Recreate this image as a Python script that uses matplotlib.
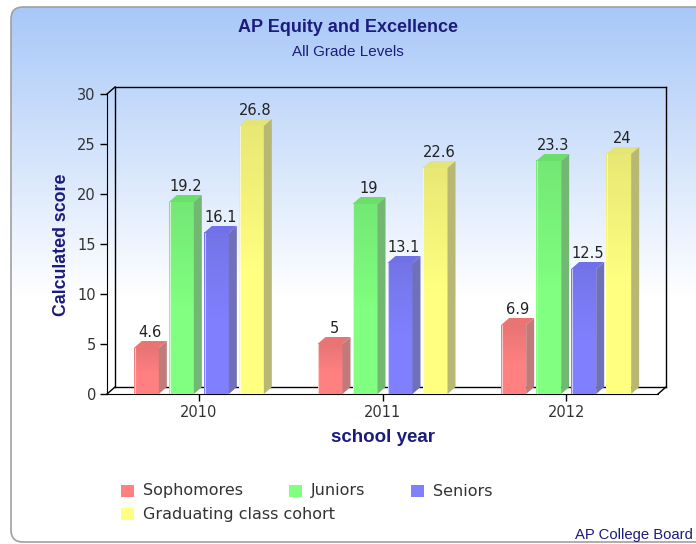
import numpy as np
import matplotlib.pyplot as plt
from matplotlib.patches import Polygon, FancyBboxPatch, Rectangle
from matplotlib.lines import Line2D
from matplotlib.colors import to_rgb

# ------------------ DATA ------------------
years = ['2010', '2011', '2012']
series = ['Sophomores', 'Juniors', 'Seniors', 'Graduating class cohort']
sophomores = [4.6, 5, 6.9]
juniors = [19.2, 19, 23.3]
seniors = [16.1, 13.1, 12.5]
graduating = [26.8, 22.6, 24]

front_cols = ['#ff8080', '#80ff80', '#8080ff', '#ffff80']
side_cols = ['#c07a7a', '#72b872', '#7070b8', '#b8b874']
top_cols = ['#e87474', '#6ae06a', '#7070e8', '#e4e478']

navy = '#1c1c7c'
W, H = 696, 544

fig = plt.figure(figsize=(W / 100, H / 100), dpi=100)
fig.patch.set_facecolor('white')

# ------------------ BACKGROUND (pixel coords) ------------------
bg = fig.add_axes([0, 0, 1, 1])
bg.set_xlim(0, W)
bg.set_ylim(H, 0)
bg.axis('off')

panel = FancyBboxPatch((11, 7), 720, 535, boxstyle='round,pad=0,rounding_size=12',
                       facecolor='none', edgecolor='#a0a0a0', lw=1.2, zorder=3)
bg.add_patch(panel)
grad = np.ones((H, 1, 3))
top_c = np.array([168, 200, 248]) / 255
for r in range(H):
    t = min(max((r - 7) / 290, 0), 1)
    grad[r, 0] = top_c * (1 - t) + np.ones(3) * t
im = bg.imshow(grad, extent=[0, W, H, 0], aspect='auto', zorder=1)
im.set_clip_path(panel)

bg.text(348, 27, 'AP Equity and Excellence', ha='center', va='center', fontsize=13,
        fontweight='bold', color=navy, family='Liberation Sans')
bg.text(348, 52, 'All Grade Levels', ha='center', va='center', fontsize=11,
        color=navy, family='Liberation Sans')
bg.text(62, 245, 'Calculated score', ha='center', va='center', rotation=90, fontsize=12.8,
        fontweight='bold', color=navy, family='Liberation Sans')
bg.text(383, 437, 'school year', ha='center', va='center', fontsize=13.5,
        fontweight='bold', color=navy, family='Liberation Sans')
bg.text(693, 535, 'AP College Board', ha='right', va='center', fontsize=10.7,
        color=navy, family='Liberation Sans')

# legend
leg_pos = [(121, 491), (289, 491), (411, 491), (121, 514)]
for name, col, (lx, ly) in zip(series, front_cols, leg_pos):
    bg.add_patch(Rectangle((lx, ly - 6), 13, 12, facecolor=col, edgecolor='none', zorder=4))
    bg.text(lx + 22, ly, name, ha='left', va='center', fontsize=11.5, color='#333333', zorder=4)

# ------------------ CHART ------------------
ax = fig.add_axes([107 / W, 1 - 394 / H, 551 / W, 300 / H])
ax.set_facecolor('none')
ax.set_xlim(-0.5, 2.5)
ax.set_ylim(0, 30)

px_x = 551 / 3.0
dx = 8 / px_x
dy = 0.7

# back wall and floor
wall = dict(color='black', lw=1, clip_on=False, zorder=2)
ax.add_line(Line2D([-0.5 + dx, 2.5 + dx], [30 + dy, 30 + dy], **wall))
ax.add_line(Line2D([2.5 + dx, 2.5 + dx], [dy, 30 + dy], **wall))
ax.add_line(Line2D([-0.5 + dx, -0.5 + dx], [dy, 30 + dy], **wall))
ax.add_line(Line2D([-0.5 + dx, 2.5 + dx], [dy, dy], **wall))
ax.add_line(Line2D([-0.5, -0.5 + dx], [30, 30 + dy], **wall))
ax.add_line(Line2D([-0.5, -0.5 + dx], [0, dy], **wall))
ax.add_line(Line2D([2.5, 2.5 + dx], [0, dy], **wall))

values = [sophomores, juniors, seniors, graduating]
bw = 25 / px_x
step = 35 / px_x
for i, vals in enumerate(values):
    fc = np.array(to_rgb(front_cols[i]))
    for j, v in enumerate(vals):
        x0 = j + (i - 1.5) * step - bw / 2
        # front face: a bit darker at the top, full colour lower down
        n = 50
        g = np.zeros((n, 1, 3))
        for k in range(n):
            t = (n - 1 - k) / (n - 1)  # 1 at top row, 0 at bottom row
            s = 1.0 - 0.09 * max((t - 0.45) / 0.55, 0)
            g[k, 0] = fc * s
        ax.imshow(g, extent=[x0, x0 + bw, 0, v], aspect='auto', origin='upper', zorder=3)
        ax.add_line(Line2D([x0 + 0.004, x0 + 0.004], [0, v], color='white', lw=0.8, alpha=0.6, zorder=4))
        ax.add_patch(Polygon([(x0, v), (x0 + bw, v), (x0 + bw + dx, v + dy), (x0 + dx, v + dy)],
                             closed=True, facecolor=top_cols[i], edgecolor='none', zorder=3))
        ax.add_patch(Polygon([(x0 + bw, 0), (x0 + bw + dx, dy), (x0 + bw + dx, v + dy), (x0 + bw, v)],
                             closed=True, facecolor=side_cols[i], edgecolor='none', zorder=3))
        ax.text(x0 + bw / 2 + dx / 2, v + dy + 0.1, f'{v:g}', ha='center', va='bottom',
                fontsize=10.5, color='#222222', zorder=5)

ax.set_xlim(-0.5, 2.5)
ax.set_ylim(0, 30)
ax.set_xticks(range(len(years)))
ax.set_xticklabels(years)
ax.set_yticks(range(0, 31, 5))
ax.spines['top'].set_visible(False)
ax.spines['right'].set_visible(False)
ax.tick_params(direction='out', length=5, width=1, colors='black', labelcolor='#333333',
               labelsize=10.5, pad=3)

fig.savefig('out.png', dpi=100)
